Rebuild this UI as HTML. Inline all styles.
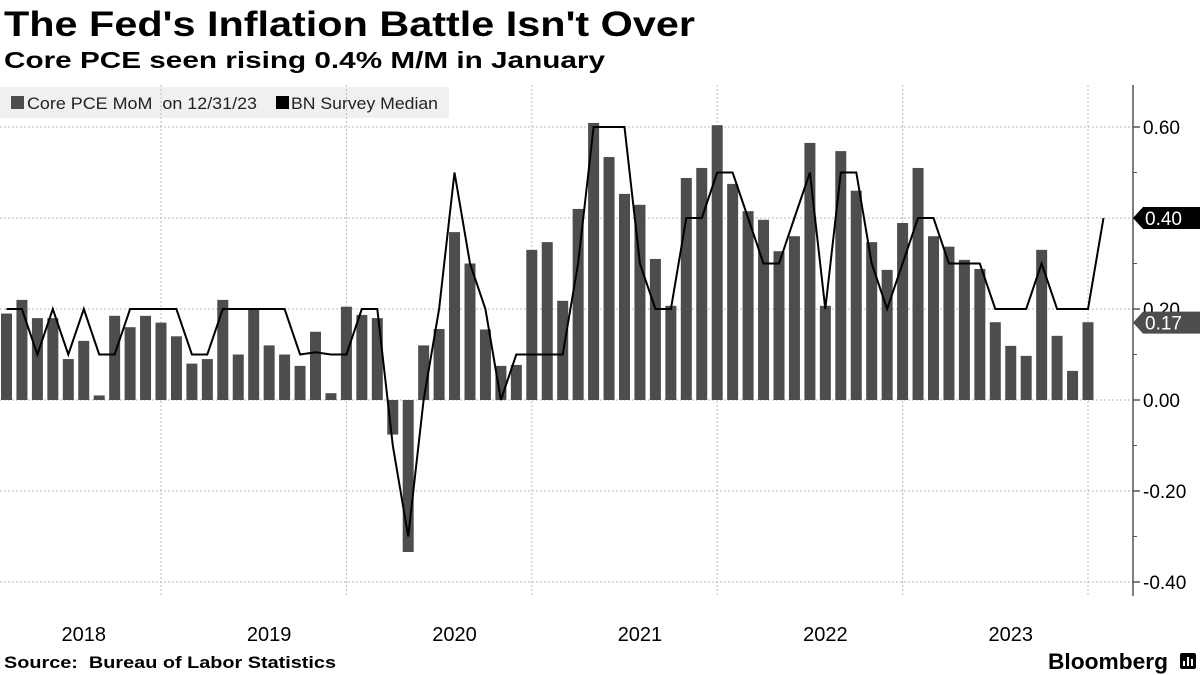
<!DOCTYPE html>
<html><head><meta charset="utf-8">
<style>
body{margin:0;background:#fff;width:1200px;height:675px;overflow:hidden;font-family:"Liberation Sans","DejaVu Sans",sans-serif;}
svg{position:absolute;left:0;top:0}
</style></head>
<body>
<svg id="chart" width="1200" height="675">
<text x="4" y="36" font-size="35" font-weight="bold" fill="#000" textLength="691" lengthAdjust="spacingAndGlyphs">The Fed's Inflation Battle Isn't Over</text>
<text x="4" y="68" font-size="23" font-weight="bold" fill="#000" textLength="601" lengthAdjust="spacingAndGlyphs">Core PCE seen rising 0.4% M/M in January</text>
<g>
<rect x="0" y="87" width="449" height="31" fill="#f0f0f0"/>
<g><rect x="11" y="96" width="13" height="13" fill="#4d4d4d"/><text x="27" y="109" font-size="17" fill="#222" textLength="230" lengthAdjust="spacingAndGlyphs" xml:space="preserve">Core PCE MoM  on 12/31/23</text></g>
<g><rect x="276" y="96" width="13" height="13" fill="#000"/><text x="291" y="109" font-size="17" fill="#222" textLength="147" lengthAdjust="spacingAndGlyphs">BN Survey Median</text></g>
</g>
<g id="grid"></g>
<g id="bars"></g>
<g id="line"></g>
<g id="axis"></g>
<g id="xaxis"></g>
<text x="4" y="668" font-size="17" font-weight="bold" fill="#000" textLength="332" lengthAdjust="spacingAndGlyphs" xml:space="preserve">Source:  Bureau of Labor Statistics</text>
<text x="1048" y="669" font-size="22" font-weight="bold" fill="#000" textLength="120" lengthAdjust="spacingAndGlyphs">Bloomberg</text>
<g><rect x="1180" y="653" width="16" height="16" rx="2" fill="#000"/><rect x="1183" y="661" width="2" height="5" fill="#fff"/><rect x="1187" y="657" width="2" height="9" fill="#fff"/><rect x="1191" y="659" width="2" height="7" fill="#fff"/></g>
</svg>
<script>
const coreValues=[0.19,0.22,0.18,0.18,0.09,0.13,0.01,0.185,0.16,0.185,0.17,0.14,0.08,0.09,0.22,0.10,0.20,0.12,0.10,0.075,0.15,0.015,0.205,0.187,0.18,-0.076,-0.334,0.12,0.156,0.369,0.30,0.155,0.075,0.077,0.33,0.347,0.218,0.42,0.609,0.534,0.453,0.429,0.31,0.207,0.488,0.51,0.604,0.475,0.415,0.396,0.327,0.36,0.565,0.207,0.547,0.46,0.347,0.286,0.389,0.51,0.36,0.337,0.308,0.288,0.171,0.119,0.097,0.33,0.141,0.064,0.171];
const surveyValues=[0.2,0.2,0.1,0.2,0.1,0.2,0.1,0.1,0.2,0.2,0.2,0.2,0.1,0.1,0.2,0.2,0.2,0.2,0.2,0.1,0.105,0.1,0.1,0.2,0.2,-0.1,-0.3,0.0,0.2,0.5,0.3,0.2,0.0,0.1,0.1,0.1,0.1,0.3,0.6,0.6,0.6,0.3,0.2,0.2,0.4,0.4,0.5,0.5,0.4,0.3,0.3,0.4,0.5,0.2,0.5,0.5,0.3,0.2,0.3,0.4,0.4,0.3,0.3,0.3,0.2,0.2,0.2,0.3,0.2,0.2,0.2,0.4];
const yearLabels=["2018","2019","2020","2021","2022","2023"];
const yTicks=[0.6,0.4,0.2,0.0,-0.2,-0.4];
const yTickLabels=["0.60","0.40","0.20","0.00","-0.20","-0.40"];
const minorTicks=[0.5,0.3,0.1,-0.1,-0.3];
const lastCore=0.17, lastSurvey=0.40;
const NS="http://www.w3.org/2000/svg";
const X0=6.5, STEP=15.45, Y0=400, YS=455;
const firstJanIdx=10;
function xs(i){return X0+i*STEP;}
function ys(v){return Y0-v*YS;}
function mk(tag,attrs,parent){const e=document.createElementNS(NS,tag);for(const k in attrs)e.setAttribute(k,attrs[k]);parent.appendChild(e);return e;}
const grid=document.getElementById('grid'),bars=document.getElementById('bars'),line=document.getElementById('line'),axis=document.getElementById('axis'),xaxis=document.getElementById('xaxis');
yTicks.forEach(v=>{const l=mk('line',{x1:0,x2:1133,y1:ys(v),y2:ys(v),stroke:'#bbb','stroke-width':1,'stroke-dasharray':'2,2'},grid);

});
for(let y=1;y<=yearLabels.length;y++){const gx=xs(firstJanIdx+12*(y-1));const l=mk('line',{x1:gx,x2:gx,y1:85,y2:596,stroke:'#bbb','stroke-width':1,'stroke-dasharray':'2,2'},grid);

}
{const gx=xs(firstJanIdx+12*yearLabels.length);const l=mk('line',{x1:gx,x2:gx,y1:85,y2:596,stroke:'#bbb','stroke-width':1,'stroke-dasharray':'2,2'},grid);

}
coreValues.forEach((v,i)=>{const y=Math.min(ys(v),Y0),h=Math.abs(ys(v)-Y0);const r=mk('rect',{x:xs(i)-5.5,y:y,width:11,height:h,fill:'#4d4d4d'},bars);

});
const pts=surveyValues.map((v,i)=>xs(i).toFixed(1)+','+ys(v).toFixed(1)).join(' ');
const pl=mk('polyline',{points:pts,fill:'none',stroke:'#000','stroke-width':2,'stroke-linejoin':'miter'},line);


mk('line',{x1:1133,x2:1133,y1:85,y2:596,stroke:'#555','stroke-width':1.5},axis);
yTicks.forEach((v,k)=>{mk('line',{x1:1133,x2:1140,y1:ys(v),y2:ys(v),stroke:'#555','stroke-width':1.5},axis);
const t=mk('text',{x:1143,y:ys(v)+7,'font-size':19,fill:'#000'},axis);t.textContent=yTickLabels[k];

});
minorTicks.forEach(v=>{mk('line',{x1:1133,x2:1137,y1:ys(v),y2:ys(v),stroke:'#555','stroke-width':1},axis);});
function tag(v,fill,name){const y=ys(v);const g=mk('g',{},axis);


mk('path',{d:`M1133,${y} L1143,${y-11} L1200,${y-11} L1200,${y+11} L1143,${y+11} Z`,fill:fill},g);
const t=mk('text',{x:1145,y:y+7,'font-size':19,fill:'#fff'},g);t.textContent=v.toFixed(2);}
tag(lastSurvey,'#000','survey-value-tag');
tag(lastCore,'#4d4d4d','core-value-tag');
yearLabels.forEach((lab,k)=>{const cx=xs(firstJanIdx+12*k)-STEP*5;const t=mk('text',{x:cx,y:641,'font-size':20,fill:'#000','text-anchor':'middle'},xaxis);t.textContent=lab;

});
</script>
</body></html>
